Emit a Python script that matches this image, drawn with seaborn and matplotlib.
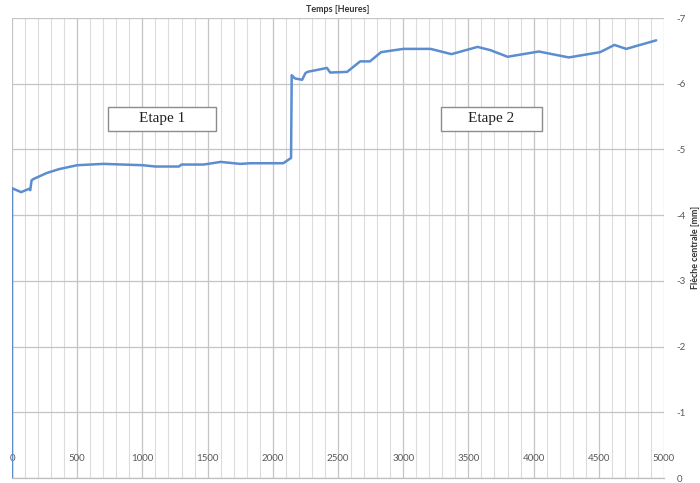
import matplotlib
matplotlib.use("Agg")
import matplotlib.pyplot as plt
from matplotlib.patches import Rectangle
from matplotlib.ticker import MultipleLocator, FixedLocator
import seaborn as sns
import pandas as pd

# Central deflection over time (hours), two loading stages
temps_h = [0, 0, 70, 130, 140, 150, 165, 265, 360, 500, 700, 1000, 1100,
           1280, 1300, 1470, 1600, 1750, 1830, 2080, 2140, 2145, 2170,
           2225, 2250, 2265, 2415, 2440, 2570, 2670, 2745, 2830, 3000,
           3210, 3370, 3570, 3670, 3800, 4040, 4270, 4510, 4620, 4710, 4940]
fleche_mm = [0, -4.41, -4.35, -4.40, -4.38, -4.53, -4.55, -4.64, -4.70,
             -4.76, -4.78, -4.76, -4.74, -4.74, -4.77, -4.77, -4.81, -4.78,
             -4.79, -4.79, -4.87, -6.13, -6.08, -6.06, -6.16, -6.18, -6.24,
             -6.17, -6.18, -6.34, -6.34, -6.48, -6.53, -6.53, -6.45, -6.56,
             -6.51, -6.41, -6.49, -6.40, -6.48, -6.59, -6.53, -6.66]

x_ticks = [0, 500, 1000, 1500, 2000, 2500, 3000, 3500, 4000, 4500, 5000]
y_ticks = [0, -1, -2, -3, -4, -5, -6, -7]
etapes = ["Etape 1", "Etape 2"]

df = pd.DataFrame({"temps": temps_h, "fleche": fleche_mm})

sns.set_theme(style="white")
plt.rcParams["font.family"] = ["Lato", "DejaVu Sans"]

fig = plt.figure(figsize=(7.0, 4.83), dpi=100)
ax = fig.add_axes([12 / 700, 5 / 483, 652 / 700, 460 / 483])

sns.lineplot(data=df, x="temps", y="fleche", ax=ax, estimator=None,
             sort=False, color="#5b8dd0", linewidth=1.8, zorder=3)

ax.set_xlim(0, 5000)
ax.set_ylim(0, -7)

# grid: minor every 100 h, major every 500 h, horizontal every 1 mm
ax.xaxis.set_major_locator(FixedLocator(x_ticks))
ax.xaxis.set_minor_locator(MultipleLocator(100))
ax.yaxis.set_major_locator(FixedLocator(y_ticks))
ax.grid(which="minor", axis="x", color="#dcdcdc", linewidth=0.8)
ax.grid(which="major", axis="x", color="#c4c4c4", linewidth=0.9)
ax.grid(which="major", axis="y", color="#c4c4c4", linewidth=0.9)
ax.set_axisbelow(True)

for side in ["top", "left", "right"]:
    ax.spines[side].set_visible(False)
ax.spines["bottom"].set_color("#bfbfbf")
ax.spines["bottom"].set_linewidth(0.9)

ax.set_xticklabels([str(t) for t in x_ticks])
ax.tick_params(axis="x", which="both", length=0, pad=-17,
               labelsize=7, labelcolor="#595959")
ax.yaxis.tick_right()
ax.set_yticklabels([str(t) for t in y_ticks])
ax.tick_params(axis="y", which="both", length=0, pad=9,
               labelsize=7, labelcolor="#595959")

ax.set_xlabel("")
ax.set_ylabel("")
ax.set_title("Temps [Heures]", fontsize=6.5, fontweight="bold",
             color="#333333", pad=4)
fig.text(0.993, (483 - 247) / 483, "Flèche centrale [mm]", rotation=90,
         ha="center", va="center", fontsize=6.5, fontweight="bold",
         color="#333333")

# stage labels in framed boxes
boxes = [(0.147, 0.313), (0.658, 0.813)]
for label, (x0, x1) in zip(etapes, boxes):
    y0, y1 = 0.754, 0.807
    ax.add_patch(Rectangle((x0, y0), x1 - x0, y1 - y0, transform=ax.transAxes,
                           facecolor="white", edgecolor="#8c8c8c",
                           linewidth=1.0, zorder=4))
    ax.text((x0 + x1) / 2, (y0 + y1) / 2, label, transform=ax.transAxes,
            ha="center", va="center", fontsize=11,
            family=["Liberation Serif", "DejaVu Serif"], color="#222222",
            zorder=5)

fig.savefig("out.png", dpi=100)
